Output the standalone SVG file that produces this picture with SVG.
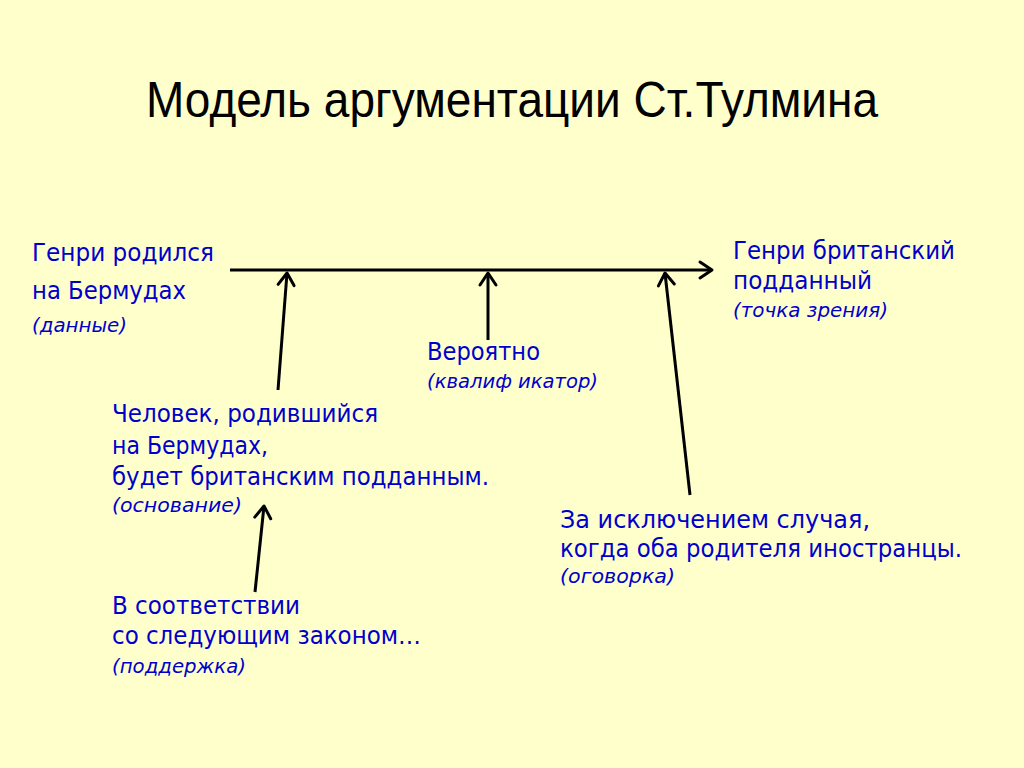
<svg xmlns="http://www.w3.org/2000/svg" width="1024" height="768" viewBox="0 0 1024 768">
<defs>
<marker id="arr" markerUnits="userSpaceOnUse" markerWidth="30" markerHeight="30" viewBox="-15 -15 30 30" refX="0" refY="0" orient="auto" overflow="visible">
<path d="M -12 -8 L 0 0 L -12 8" fill="none" stroke="#000" stroke-width="3" stroke-linecap="round" stroke-linejoin="round"/>
</marker>
<style>
.t{font-family:"DejaVu Sans","Liberation Sans",sans-serif;font-size:24px;fill:#0000CC}
.i{font-family:"DejaVu Sans","Liberation Sans",sans-serif;font-size:20px;font-style:italic;fill:#0000CC}
.c{stroke:#000;stroke-width:3;fill:none;marker-end:url(#arr)}
</style>
</defs>
<rect width="1024" height="768" fill="#FFFFCC"/>
<text x="146" y="117" font-family="'Liberation Sans',Arial,sans-serif" font-size="50" fill="#000" textLength="732" lengthAdjust="spacingAndGlyphs">Модель аргументации Ст.Тулмина</text>
<g id="connectors">
<line class="c" x1="230" y1="270" x2="712" y2="270"/>
<line class="c" x1="278" y1="390" x2="287" y2="273"/>
<line class="c" x1="488" y1="340" x2="488" y2="273"/>
<line class="c" x1="690" y1="495" x2="665" y2="273"/>
<line class="c" x1="255" y1="592" x2="264" y2="506"/>
</g>
<g id="data">
<text class="t" x="32" y="261" textLength="182" lengthAdjust="spacingAndGlyphs">Генри родился</text>
<text class="t" x="32" y="299" textLength="154" lengthAdjust="spacingAndGlyphs">на Бермудах</text>
<text class="i" x="32" y="332" textLength="95" lengthAdjust="spacingAndGlyphs">(данные)</text>
</g>
<g id="claim">
<text class="t" x="733" y="259" textLength="222" lengthAdjust="spacingAndGlyphs">Генри британский</text>
<text class="t" x="733" y="289" textLength="139" lengthAdjust="spacingAndGlyphs">подданный</text>
<text class="i" x="733" y="317" textLength="155" lengthAdjust="spacingAndGlyphs">(точка зрения)</text>
</g>
<g id="qualifier">
<text class="t" x="427" y="360" textLength="113" lengthAdjust="spacingAndGlyphs">Вероятно</text>
<text class="i" x="427" y="388" textLength="171" lengthAdjust="spacingAndGlyphs">(квалиф икатор)</text>
</g>
<g id="warrant">
<text class="t" x="112" y="422" textLength="266" lengthAdjust="spacingAndGlyphs">Человек, родившийся</text>
<text class="t" x="112" y="454" textLength="156" lengthAdjust="spacingAndGlyphs">на Бермудах,</text>
<text class="t" x="112" y="485" textLength="377" lengthAdjust="spacingAndGlyphs">будет британским подданным.</text>
<text class="i" x="112" y="512" textLength="130" lengthAdjust="spacingAndGlyphs">(основание)</text>
</g>
<g id="backing">
<text class="t" x="112" y="614" textLength="188" lengthAdjust="spacingAndGlyphs">В соответствии</text>
<text class="t" x="112" y="644" textLength="309" lengthAdjust="spacingAndGlyphs">со следующим законом…</text>
<text class="i" x="112" y="673" textLength="134" lengthAdjust="spacingAndGlyphs">(поддержка)</text>
</g>
<g id="rebuttal">
<text class="t" x="560" y="528" textLength="310" lengthAdjust="spacingAndGlyphs">За исключением случая,</text>
<text class="t" x="560" y="557" textLength="402" lengthAdjust="spacingAndGlyphs">когда оба родителя иностранцы.</text>
<text class="i" x="560" y="583" textLength="115" lengthAdjust="spacingAndGlyphs">(оговорка)</text>
</g>
</svg>
